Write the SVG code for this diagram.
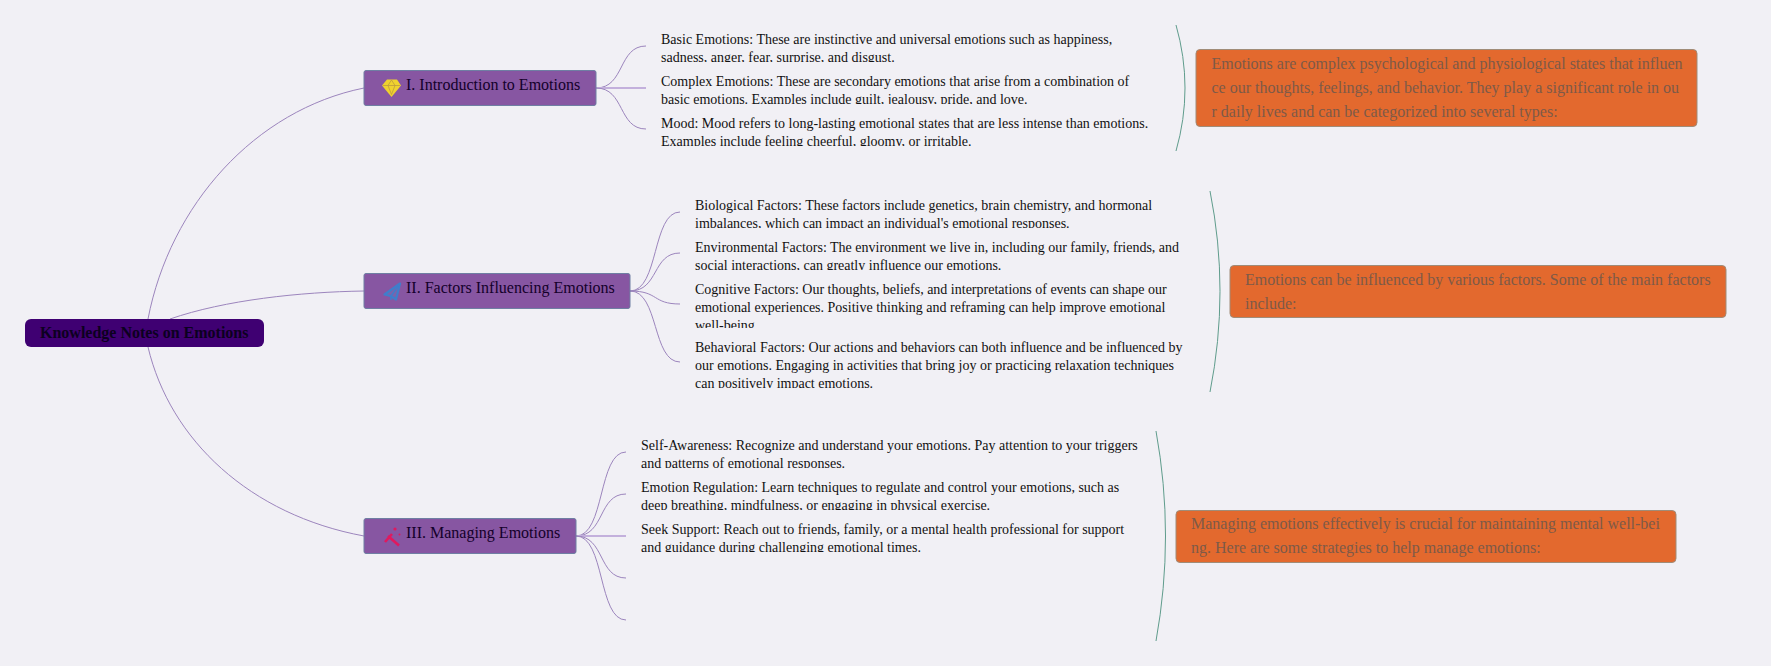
<svg xmlns="http://www.w3.org/2000/svg" width="1771" height="666" viewBox="0 0 1771 666">
<style>
text{font-family:"Liberation Serif","Times New Roman",serif}
.root{fill:#3f0072}
.rt{font-size:16px;font-weight:bold;fill:#0c0020}
.topic{fill:#8756a2;stroke:#6f7fa3;stroke-width:1}
.tt{font-size:16px;fill:#14002a}
.leaf{font-size:14px;fill:#111}
.note{fill:#e3692e;stroke:#a08c78;stroke-width:1}
.nt{font-size:16px;fill:#7d5a48}
.c{fill:none;stroke:#9c85bd;stroke-width:1}
.s{fill:none;stroke:#c3b0dc;stroke-width:2}
.b{fill:none;stroke:#5f9c8c;stroke-width:1}
</style>
<defs>
<clipPath id="c1"><rect x="655" y="25" width="520" height="37"/></clipPath>
<clipPath id="c2"><rect x="655" y="70" width="520" height="34"/></clipPath>
<clipPath id="c3"><rect x="655" y="112" width="520" height="34"/></clipPath>
<clipPath id="c4"><rect x="690" y="195" width="520" height="33"/></clipPath>
<clipPath id="c5"><rect x="690" y="237" width="520" height="33"/></clipPath>
<clipPath id="c6"><rect x="690" y="279" width="520" height="49"/></clipPath>
<clipPath id="c7"><rect x="690" y="337" width="520" height="51"/></clipPath>
<clipPath id="c8"><rect x="635" y="435" width="520" height="33"/></clipPath>
<clipPath id="c9"><rect x="635" y="477" width="520" height="33"/></clipPath>
<clipPath id="c10"><rect x="635" y="519" width="520" height="33"/></clipPath>
</defs>
<rect width="1771" height="666" fill="#f1f0f5"/>
<g id="connectors">
<path class="c" d="M148 319C170 205 255 110 364 88"/>
<path class="c" d="M170 319C225 300 300 292 364 291"/>
<path class="c" d="M148 347C170 440 250 515 364 536"/>
<path class="c" d="M596 88C625 88 618 46 646 46"/>
<path class="s" d="M596 88H646"/>
<path class="c" d="M596 88C625 88 618 129 646 129"/>
<path class="c" d="M630 291C659 291 652 212 680 212"/>
<path class="c" d="M630 291C659 291 652 253 680 253"/>
<path class="c" d="M630 291C659 291 652 304 680 304"/>
<path class="c" d="M630 291C659 291 652 362 680 362"/>
<path class="c" d="M576 536C605 536 598 452 626 452"/>
<path class="c" d="M576 536C605 536 598 494 626 494"/>
<path class="s" d="M576 536H626"/>
<path class="c" d="M576 536C605 536 598 578 626 578"/>
<path class="c" d="M576 536C605 536 598 620 626 620"/>
<path class="b" d="M1176 25Q1194 88 1176 151"/>
<path class="b" d="M1210 191Q1230 291 1210 392"/>
<path class="b" d="M1156 431Q1175 536 1156 641"/>
</g>
<g id="root"><rect class="root" x="25" y="319" width="239" height="28" rx="6"/><text class="rt" x="40" y="338">Knowledge Notes on Emotions</text></g>
<g id="topic1"><rect class="topic" x="364" y="70.500" width="232" height="35" rx="2"/>
<path d="M387 79.500h10l4 6-9.500 11.500-9.500-11.500z" fill="#efd22e"/>
<path d="M383 85.500h17M388 85.500l3.500 9 3.500-9-3.500-5.500z" fill="none" stroke="#b8953f" stroke-width=".7"/>
<text class="tt" x="406" y="90">I. Introduction to Emotions</text></g>
<g id="topic2"><rect class="topic" x="364" y="273.500" width="266" height="35" rx="2"/>
<path d="M400 283.500l-15.500 11 6 1.500 5.500 3.500z" fill="#7a64ad" stroke="#3f7ecb" stroke-width="2.200" stroke-linejoin="round"/>
<path d="M399 285l-8 11v4" fill="none" stroke="#3f7ecb" stroke-width="1.500"/>
<text class="tt" x="406" y="293">II. Factors Influencing Emotions</text></g>
<g id="topic3"><rect class="topic" x="364" y="518.500" width="212" height="35" rx="2"/>
<path d="M388 536l11 9.500M385 542l7-8" fill="none" stroke="#e0195f" stroke-width="2.600"/>
<circle cx="395" cy="529" r="1.600" fill="#e0195f"/><circle cx="399.500" cy="534.500" r="1" fill="#e0195f"/>
<text class="tt" x="406" y="538">III. Managing Emotions</text></g>
<g id="leaf1"><text class="leaf" clip-path="url(#c1)" x="661" y="44">Basic Emotions: These are instinctive and universal emotions such as happiness,<tspan x="661" dy="18">sadness, anger, fear, surprise, and disgust.</tspan></text></g>
<g id="leaf2"><text class="leaf" clip-path="url(#c2)" x="661" y="86">Complex Emotions: These are secondary emotions that arise from a combination of<tspan x="661" dy="18">basic emotions. Examples include guilt, jealousy, pride, and love.</tspan></text></g>
<g id="leaf3"><text class="leaf" clip-path="url(#c3)" x="661" y="128">Mood: Mood refers to long-lasting emotional states that are less intense than emotions.<tspan x="661" dy="18">Examples include feeling cheerful, gloomy, or irritable.</tspan></text></g>
<g id="leaf4"><text class="leaf" clip-path="url(#c4)" x="695" y="210">Biological Factors: These factors include genetics, brain chemistry, and hormonal<tspan x="695" dy="18">imbalances, which can impact an individual's emotional responses.</tspan></text></g>
<g id="leaf5"><text class="leaf" clip-path="url(#c5)" x="695" y="252">Environmental Factors: The environment we live in, including our family, friends, and<tspan x="695" dy="18">social interactions, can greatly influence our emotions.</tspan></text></g>
<g id="leaf6"><text class="leaf" clip-path="url(#c6)" x="695" y="294">Cognitive Factors: Our thoughts, beliefs, and interpretations of events can shape our<tspan x="695" dy="18">emotional experiences. Positive thinking and reframing can help improve emotional</tspan><tspan x="695" dy="18">well-being.</tspan></text></g>
<g id="leaf7"><text class="leaf" clip-path="url(#c7)" x="695" y="352">Behavioral Factors: Our actions and behaviors can both influence and be influenced by<tspan x="695" dy="18">our emotions. Engaging in activities that bring joy or practicing relaxation techniques</tspan><tspan x="695" dy="18">can positively impact emotions.</tspan></text></g>
<g id="leaf8"><text class="leaf" clip-path="url(#c8)" x="641" y="450">Self-Awareness: Recognize and understand your emotions. Pay attention to your triggers<tspan x="641" dy="18">and patterns of emotional responses.</tspan></text></g>
<g id="leaf9"><text class="leaf" clip-path="url(#c9)" x="641" y="492">Emotion Regulation: Learn techniques to regulate and control your emotions, such as<tspan x="641" dy="18">deep breathing, mindfulness, or engaging in physical exercise.</tspan></text></g>
<g id="leaf10"><text class="leaf" clip-path="url(#c10)" x="641" y="534">Seek Support: Reach out to friends, family, or a mental health professional for support<tspan x="641" dy="18">and guidance during challenging emotional times.</tspan></text></g>
<g id="note1"><rect class="note" x="1196" y="49.500" width="501" height="77" rx="4"/><text class="nt" x="1211.500" y="69">Emotions are complex psychological and physiological states that influen<tspan x="1211.500" dy="24">ce our thoughts, feelings, and behavior. They play a significant role in ou</tspan><tspan x="1211.500" dy="24">r daily lives and can be categorized into several types:</tspan></text></g>
<g id="note2"><rect class="note" x="1230" y="265.500" width="496" height="52" rx="4"/><text class="nt" x="1245" y="285">Emotions can be influenced by various factors. Some of the main factors<tspan x="1245" dy="24">include:</tspan></text></g>
<g id="note3"><rect class="note" x="1176" y="510.500" width="500" height="52" rx="4"/><text class="nt" x="1191" y="529">Managing emotions effectively is crucial for maintaining mental well-bei<tspan x="1191" dy="24">ng. Here are some strategies to help manage emotions:</tspan></text></g>
</svg>
